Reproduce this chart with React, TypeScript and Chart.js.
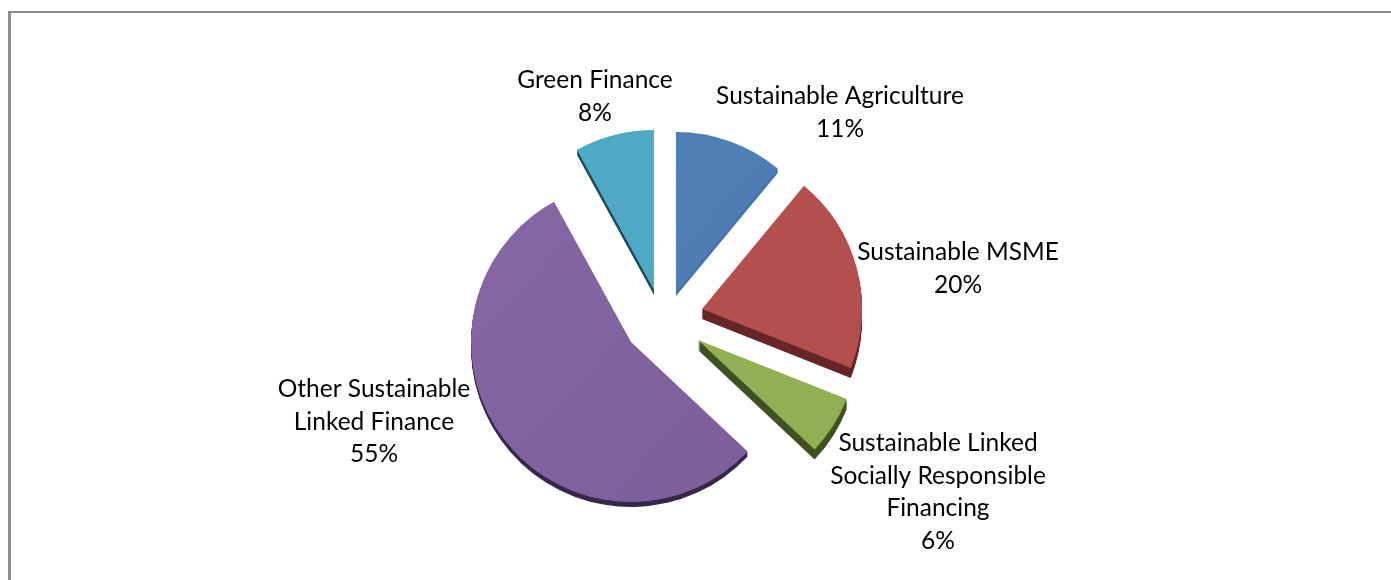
import React, { useEffect, useRef } from "react";
import { Chart, registerables } from "chart.js";

Chart.register(...registerables);

const categories = [
  "Sustainable Agriculture",
  "Sustainable MSME",
  "Sustainable Linked Socially Responsible Financing",
  "Other Sustainable Linked Finance",
  "Green Finance",
];
const shares = [11, 20, 6, 55, 8];
const topColors = ["#5080b9", "#b85350", "#95b458", "#8769a8", "#4facc6"];
const bottomColors = ["#4c7ab2", "#b14d4a", "#90af53", "#7a5c97", "#4ba5bf"];
const sideColors = ["#4573ac", "#652625", "#3f5120", "#35284a", "#1f4a58"];
const labelLines = [
  ["Sustainable Agriculture", "11%"],
  ["Sustainable MSME", "20%"],
  ["Sustainable Linked", "Socially Responsible", "Financing", "6%"],
  ["Other Sustainable", "Linked Finance", "55%"],
  ["Green Finance", "8%"],
];

// Layout and styling, separate from the data
const SLICE_SHIFT = [
  [13, -30],
  [39, -13],
  [35, 18],
  [-32, 20],
  [-9, -32],
];
const DEPTH = [4, 10, 10, 5, 5];
const LABEL_CENTER = [
  [840, 96],
  [958, 252],
  [938, 443],
  [374, 389],
  [595, 80],
];
const LINE_HEIGHT = 32.7;

const explodePlugin = {
  id: "explode",
  afterDatasetsUpdate(chart: any) {
    chart.getDatasetMeta(0).data.forEach((arc: any, i: number) => {
      arc.x += SLICE_SHIFT[i][0];
      arc.y += SLICE_SHIFT[i][1];
    });
  },
};

const depthPlugin = {
  id: "depth",
  beforeDatasetsDraw(chart: any) {
    const { ctx } = chart;
    chart.getDatasetMeta(0).data.forEach((arc: any, i: number) => {
      ctx.save();
      ctx.fillStyle = sideColors[i];
      for (let d = 1; d <= DEPTH[i]; d++) {
        ctx.beginPath();
        ctx.moveTo(arc.x, arc.y + d);
        ctx.arc(arc.x, arc.y + d, arc.outerRadius, arc.startAngle, arc.endAngle);
        ctx.closePath();
        ctx.fill();
      }
      ctx.restore();
    });
  },
};

const labelPlugin = {
  id: "sliceLabels",
  afterDraw(chart: any) {
    const { ctx } = chart;
    ctx.save();
    ctx.font = '24.5px Lato, "Open Sans", sans-serif';
    ctx.fillStyle = "#000000";
    ctx.textAlign = "center";
    ctx.textBaseline = "middle";
    labelLines.forEach((lines, i) => {
      lines.forEach((line, j) => {
        ctx.fillText(line, LABEL_CENTER[i][0], LABEL_CENTER[i][1] + j * LINE_HEIGHT);
      });
    });
    ctx.restore();
  },
};

export default function App() {
  const ref = useRef<HTMLCanvasElement>(null);
  useEffect(() => {
    const chart = new Chart(ref.current!, {
      type: "pie",
      data: {
        labels: categories,
        datasets: [
          {
            data: shares,
            borderWidth: 0,
            backgroundColor: (c: any) => {
              const g = c.chart.ctx.createLinearGradient(450, 130, 870, 510);
              g.addColorStop(0, topColors[c.dataIndex]);
              g.addColorStop(1, bottomColors[c.dataIndex]);
              return g;
            },
          },
        ],
      },
      options: {
        animation: false,
        responsive: false,
        radius: 160,
        layout: { padding: { left: 0, right: 65, top: 64, bottom: 0 } },
        plugins: { legend: { display: false }, tooltip: { enabled: false } },
      } as any,
      plugins: [explodePlugin, depthPlugin, labelPlugin],
    });
    return () => chart.destroy();
  }, []);
  return (
    <div style={{ position: "fixed", inset: 0, background: "#ffffff", overflow: "hidden" }}>
      <canvas ref={ref} width={1391} height={580} style={{ position: "absolute", left: 0, top: 0, display: "block" }} />
      <div
        style={{
          position: "absolute",
          left: 8,
          top: 11,
          right: 0,
          bottom: 0,
          borderLeft: "3px solid #8f8f8f",
          borderTop: "2px solid #8a8a8a",
        }}
      />
    </div>
  );
}
